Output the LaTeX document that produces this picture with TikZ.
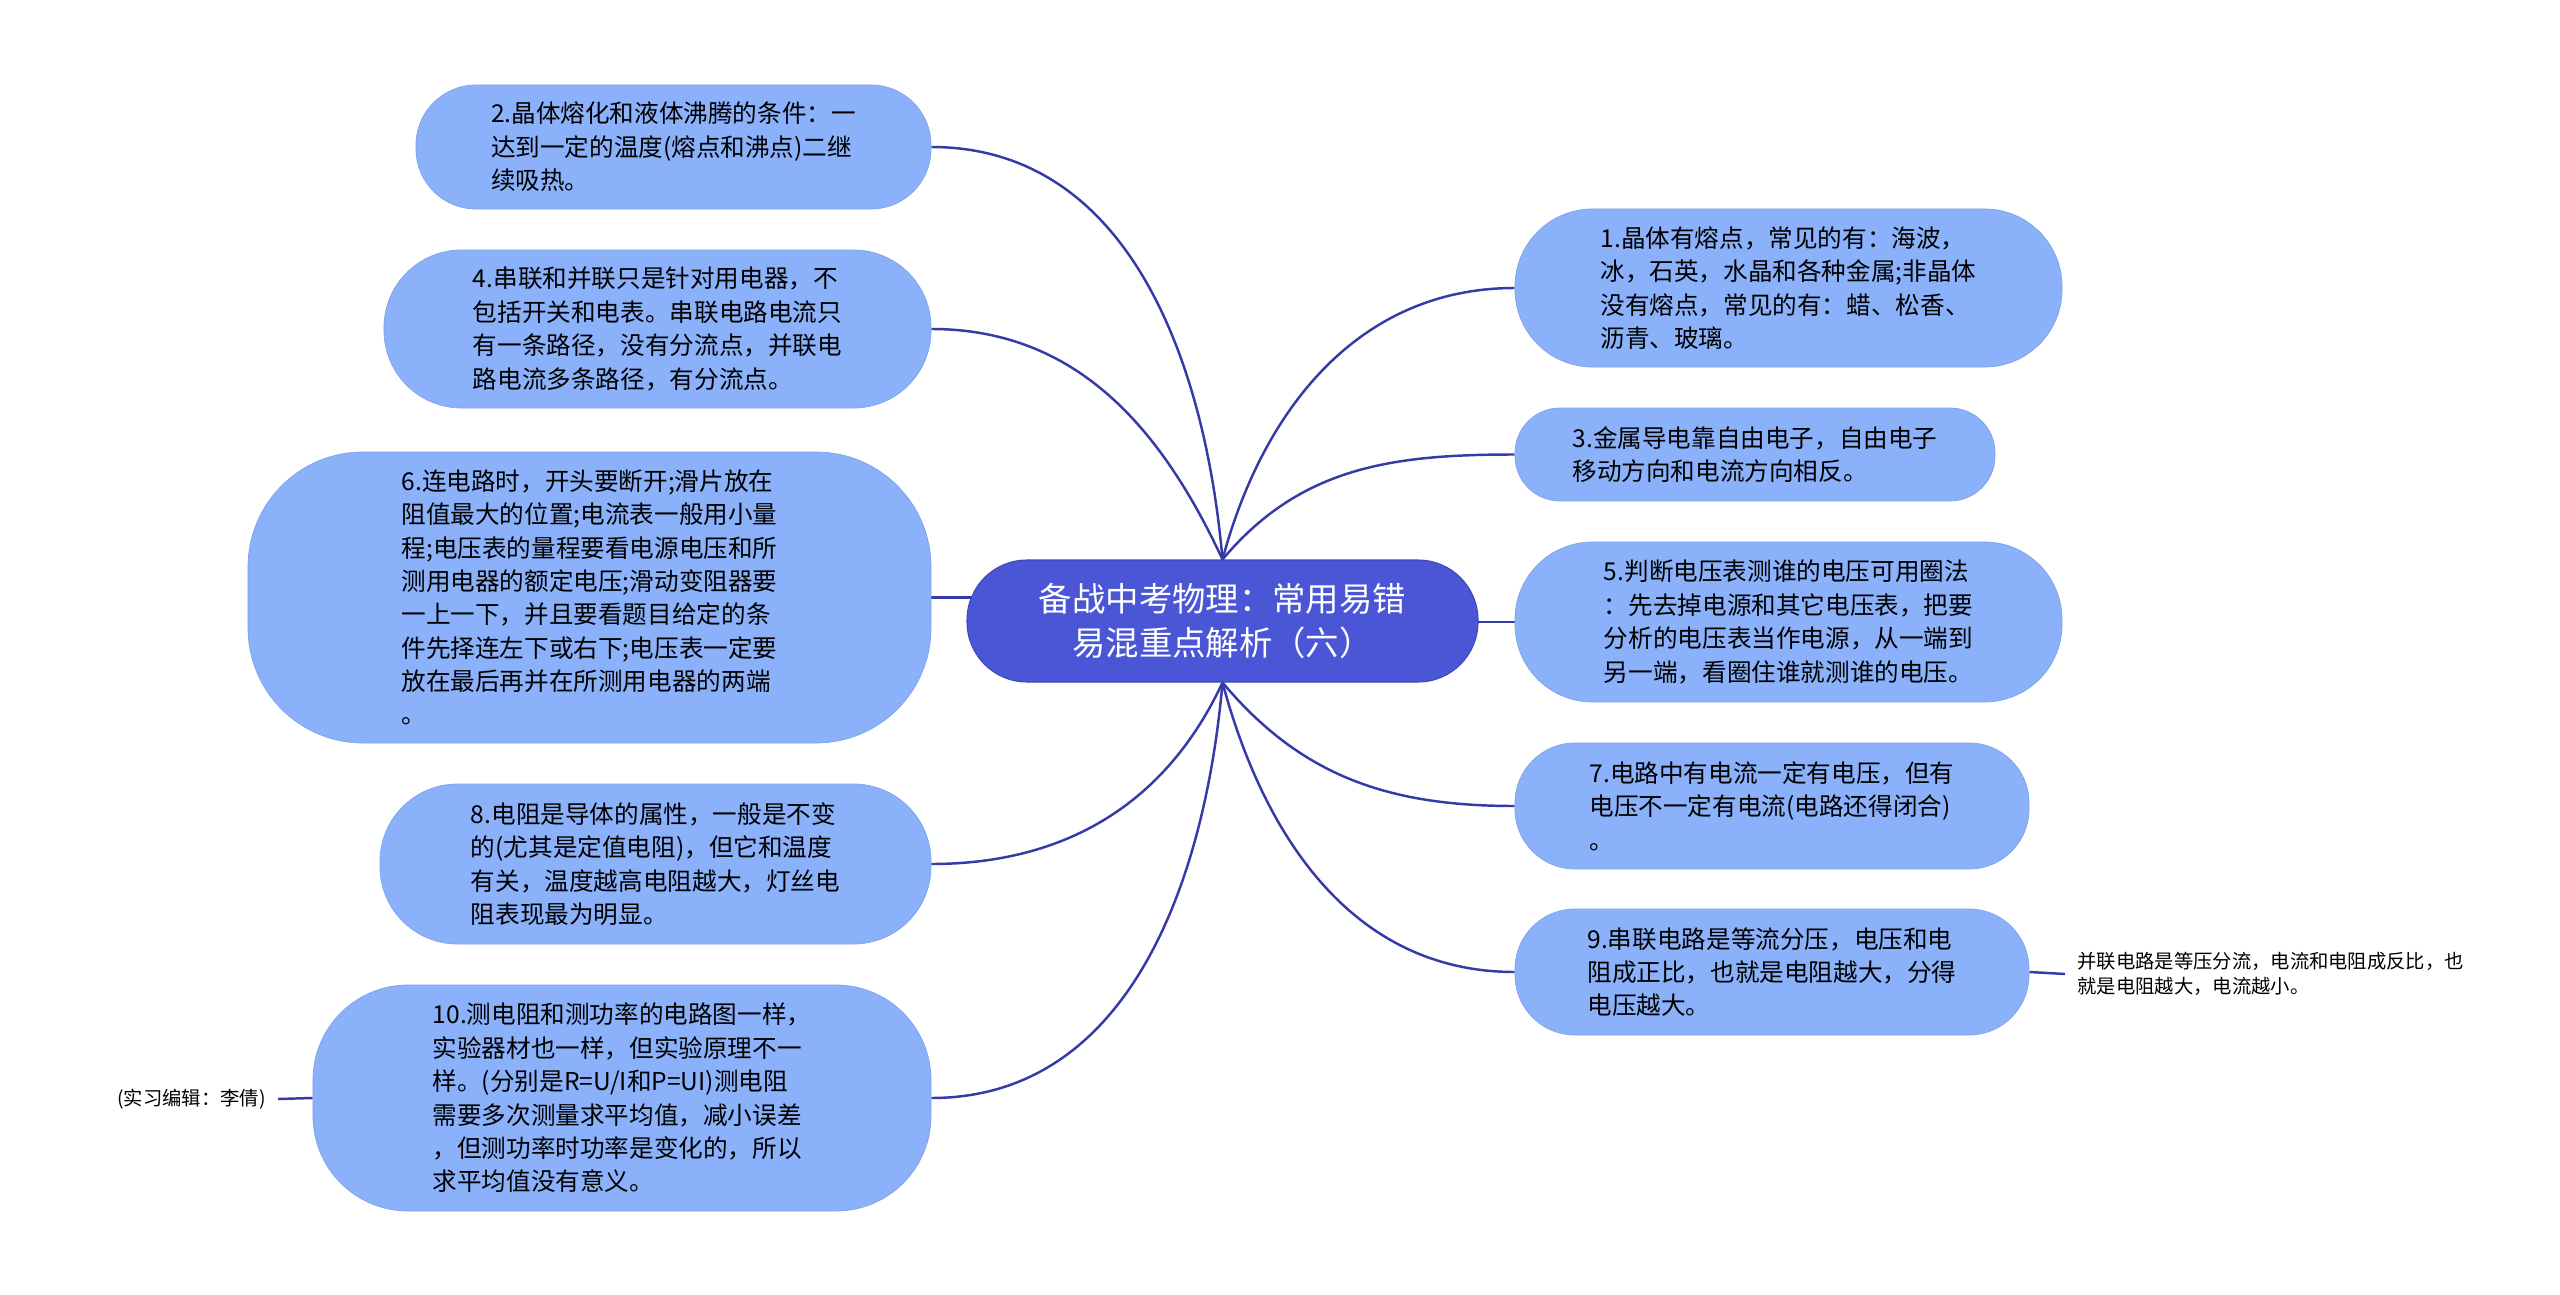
\documentclass[tikz,border=0pt]{standalone}
\usepackage{fontspec}
\setmainfont{Noto Sans CJK SC}
\usepackage{xcolor}
\usepackage{tikz}
\usetikzlibrary{backgrounds}
\definecolor{topicblue}{RGB}{74,86,214}
\definecolor{leafblue}{RGB}{138,177,249}
\definecolor{linkblue}{RGB}{52,58,166}
\tikzset{
  topic node/.style={fill=topicblue,draw=topicblue!85!black,line width=0.6pt,rounded corners=12mm,minimum width=102.2mm,minimum height=24.4mm,inner sep=0pt,text=white,align=center,font=\fontsize{19pt}{25pt}\selectfont},
  leaf node/.style={fill=leafblue,draw=leafblue!92!black,line width=0.4pt,rounded corners=#1,inner sep=0pt,align=left,font=\fontsize{14pt}{19pt}\selectfont},
  leaf node/.default=12mm,
  note node/.style={inner xsep=2.4mm,inner ysep=0pt,align=left,font=\fontsize{11pt}{14pt}\selectfont},
  branch/.style={draw=linkblue,line width=1.4pt}
}

\begin{document}
\begin{tikzpicture}[x=0.2mm,y=-0.2mm]
  \useasboundingbox (0,0) rectangle (2560,1295);
  \node[topic node] (root) at (1222.5,621) {备战中考物理：常用易错\\易混重点解析（六）};
  \node[leaf node=12mm,minimum width=103mm,minimum height=24.8mm] (n2) at (673.5,147)
    {2.晶体熔化和液体沸腾的条件：一\\达到一定的温度(熔点和沸点)二继\\续吸热。};
  \node[leaf node=15.5mm,minimum width=109.4mm,minimum height=31.6mm] (n4) at (657.5,329)
    {4.串联和并联只是针对用电器，不\\包括开关和电表。串联电路电流只\\有一条路径，没有分流点，并联电\\路电流多条路径，有分流点。};
  \node[leaf node=23mm,minimum width=136.6mm,minimum height=58.2mm] (n6) at (589.5,597.5)
    {6.连电路时，开头要断开;滑片放在\\阻值最大的位置;电流表一般用小量\\程;电压表的量程要看电源电压和所\\测用电器的额定电压;滑动变阻器要\\一上一下，并且要看题目给定的条\\件先择连左下或右下;电压表一定要\\放在最后再并在所测用电器的两端\\。};
  \node[leaf node=15.5mm,minimum width=110.2mm,minimum height=32mm] (n8) at (655.5,864)
    {8.电阻是导体的属性，一般是不变\\的(尤其是定值电阻)，但它和温度\\有关，温度越高电阻越大，灯丝电\\阻表现最为明显。};
  \node[leaf node=19mm,minimum width=123.6mm,minimum height=45.2mm] (n10) at (622,1098)
    {10.测电阻和测功率的电路图一样，\\实验器材也一样，但实验原理不一\\样。(分别是R=U/I和P=UI)测电阻\\需要多次测量求平均值，减小误差\\，但测功率时功率是变化的，所以\\求平均值没有意义。};
  \node[note node,anchor=east] (editor) at (278,1099) {(实习编辑：李倩)};
  \node[leaf node=15.5mm,minimum width=109.4mm,minimum height=31.6mm] (n1) at (1788.5,288)
    {1.晶体有熔点，常见的有：海波，\\冰，石英，水晶和各种金属;非晶体\\没有熔点，常见的有：蜡、松香、\\沥青、玻璃。};
  \node[leaf node=9mm,minimum width=96mm,minimum height=18.6mm] (n3) at (1755,454.5)
    {3.金属导电靠自由电子，自由电子\\移动方向和电流方向相反。};
  \node[leaf node=15.5mm,minimum width=109.4mm,minimum height=32mm] (n5) at (1788.5,622)
    {5.判断电压表测谁的电压可用圈法\\：先去掉电源和其它电压表，把要\\分析的电压表当作电源，从一端到\\另一端，看圈住谁就测谁的电压。};
  \node[leaf node=12mm,minimum width=102.8mm,minimum height=25.2mm] (n7) at (1772,806)
    {7.电路中有电流一定有电压，但有\\电压不一定有电流(电路还得闭合)\\。};
  \node[leaf node=12mm,minimum width=102.8mm,minimum height=25.2mm] (n9) at (1772,972)
    {9.串联电路是等流分压，电压和电\\阻成正比，也就是电阻越大，分得\\电压越大。};
  \node[note node,anchor=west] (parallel) at (2065,974)
    {并联电路是等压分流，电流和电阻成反比，也\\就是电阻越大，电流越小。};
  \begin{scope}[on background layer]
    \fill[white] (current bounding box.south west) rectangle (current bounding box.north east);
    \draw[branch] (root.north) to[out=95,in=0] (n2.east);
    \draw[branch] (root.north) to[out=115,in=0] (n4.east);
    \draw[branch] (n6.east) -- (n6.east -| root.center);
    \draw[branch] (root.south) to[out=245,in=0] (n8.east);
    \draw[branch] (root.south) to[out=265,in=0] (n10.east);
    \draw[branch] (n10.west) -- (editor.east);
    \draw[branch] (root.north) to[out=75,in=180] (n1.west);
    \draw[branch] (root.north) to[out=50,in=180] (n3.west);
    \draw[branch] (n5.west) -- (n5.west -| root.center);
    \draw[branch] (root.south) to[out=-50,in=180] (n7.west);
    \draw[branch] (root.south) to[out=-75,in=180] (n9.west);
    \draw[branch] (n9.east) -- (parallel.west);
  \end{scope}
\end{tikzpicture}
\end{document}
